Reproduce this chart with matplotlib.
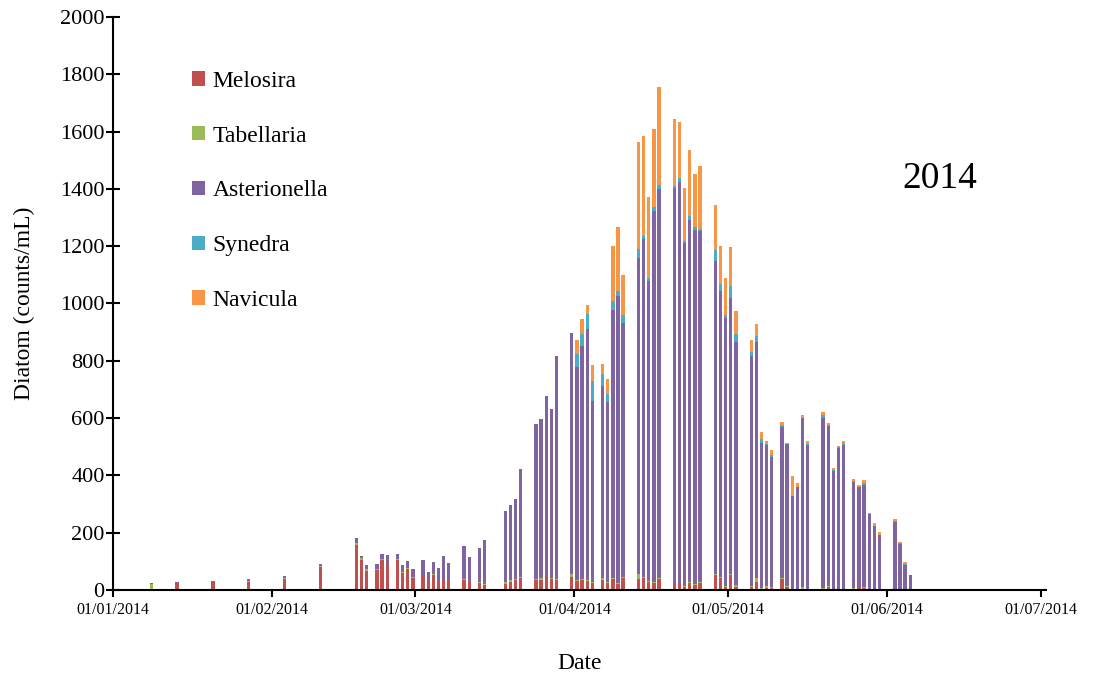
import numpy as np
import pandas as pd
import matplotlib
matplotlib.use("Agg")
import matplotlib.pyplot as plt
import matplotlib.dates as mdates

plt.rcParams['font.family'] = ['Liberation Serif', 'DejaVu Serif']

# sampling dates
dates = pd.to_datetime([
    '2014-01-08', '2014-01-13', '2014-01-20', '2014-01-27', '2014-02-03', '2014-02-10',
    '2014-02-17', '2014-02-18', '2014-02-19', '2014-02-21', '2014-02-22', '2014-02-23',
    '2014-02-25', '2014-02-26', '2014-02-27', '2014-02-28',
    '2014-03-02', '2014-03-03', '2014-03-04', '2014-03-05', '2014-03-06', '2014-03-07',
    '2014-03-10', '2014-03-11', '2014-03-13', '2014-03-14',
    '2014-03-18', '2014-03-19', '2014-03-20', '2014-03-21',
    '2014-03-24', '2014-03-25', '2014-03-26', '2014-03-27', '2014-03-28',
    '2014-03-31', '2014-04-01', '2014-04-02', '2014-04-03', '2014-04-04',
    '2014-04-06', '2014-04-07', '2014-04-08', '2014-04-09', '2014-04-10',
    '2014-04-13', '2014-04-14', '2014-04-15', '2014-04-16', '2014-04-17',
    '2014-04-20', '2014-04-21', '2014-04-22', '2014-04-23', '2014-04-24', '2014-04-25',
    '2014-04-28', '2014-04-29', '2014-04-30', '2014-05-01', '2014-05-02',
    '2014-05-05', '2014-05-06', '2014-05-07', '2014-05-08', '2014-05-09',
    '2014-05-11', '2014-05-12', '2014-05-13', '2014-05-14', '2014-05-15', '2014-05-16',
    '2014-05-19', '2014-05-20', '2014-05-21', '2014-05-22', '2014-05-23',
    '2014-05-25', '2014-05-26', '2014-05-27', '2014-05-28', '2014-05-29', '2014-05-30',
    '2014-06-02', '2014-06-03', '2014-06-04', '2014-06-05',
])

melosira = [
    0, 20, 27, 29, 40, 81,
    158, 103, 67, 70, 104, 95, 104, 59, 73, 43,
    52, 29, 54, 33, 38, 31,
    35, 29, 26, 17,
    21, 29, 35, 41,
    35, 35, 52, 40, 35,
    47, 31, 36, 31, 24,
    35, 24, 40, 21, 41,
    38, 42, 29, 24, 38,
    23, 23, 12, 24, 17, 24,
    51, 41, 12, 52, 12,
    10, 28, 3, 8, 6,
    38, 10, 0, 0, 3, 0,
    5, 10, 0, 3, 0,
    0, 6, 7, 0, 0, 0,
    0, 0, 0, 0,
]
tabellaria = [
    20, 1, 1, 1, 2, 2,
    6, 8, 5, 4, 3, 0, 4, 3, 2, 2,
    2, 0, 2, 0, 2, 0,
    3, 0, 2, 3,
    6, 5, 2, 3,
    3, 6, 2, 2, 2,
    8, 4, 2, 3, 5,
    7, 3, 2, 2, 3,
    18, 2, 4, 5, 5,
    3, 3, 2, 3, 5, 3,
    4, 6, 2, 4, 4,
    4, 14, 3, 5, 4,
    3, 5, 0, 0, 9, 0,
    2, 3, 0, 0, 0,
    6, 2, 2, 0, 0, 0,
    0, 0, 0, 0,
]
asterionella = [
    3, 7, 4, 7, 7, 9,
    16, 8, 14, 15, 18, 27, 18, 26, 25, 29,
    49, 35, 42, 44, 80, 62,
    115, 85, 118, 154,
    250, 263, 280, 377,
    541, 557, 623, 588, 780,
    842, 743, 814, 876, 629,
    669, 629, 936, 1004, 889,
    1103, 1182, 1046, 1295, 1358,
    1378, 1398, 1197, 1265, 1234, 1226,
    1093, 996, 937, 962, 849,
    803, 825, 508, 493, 454,
    529, 493, 329, 358, 587, 506,
    594, 559, 415, 492, 506,
    370, 350, 357, 264, 223, 192,
    237, 161, 87, 54,
]
synedra = [
    0, 0, 0, 0, 0, 0,
    0, 0, 0, 0, 0, 0, 0, 0, 0, 0,
    0, 0, 0, 0, 0, 0,
    0, 0, 0, 0,
    0, 0, 0, 0,
    0, 0, 0, 0, 0,
    0, 45, 43, 53, 70,
    42, 29, 31, 17, 26,
    31, 10, 11, 12, 13,
    6, 13, 8, 14, 12, 7,
    38, 24, 8, 42, 29,
    14, 20, 12, 3, 7,
    6, 2, 0, 0, 3, 3,
    10, 3, 5, 3, 7,
    4, 3, 6, 0, 0, 0,
    3, 2, 2, 0,
]
navicula = [
    0, 0, 0, 0, 0, 0,
    0, 0, 0, 0, 0, 0, 0, 0, 0, 0,
    0, 0, 0, 0, 0, 0,
    0, 0, 0, 0,
    0, 0, 0, 0,
    0, 0, 0, 0, 0,
    0, 49, 52, 31, 56,
    37, 53, 192, 222, 142,
    374, 350, 283, 272, 340,
    234, 196, 185, 230, 184, 220,
    158, 132, 131, 137, 79,
    41, 43, 24, 11, 18,
    12, 4, 69, 14, 9, 11,
    9, 7, 7, 5, 7,
    7, 5, 12, 4, 10, 9,
    7, 6, 10, 0,
]

names = ['Melosira', 'Tabellaria', 'Asterionella', 'Synedra', 'Navicula']
colors = ['#C0504D', '#9BBB59', '#8064A2', '#4BACC6', '#F79646']
series = [melosira, tabellaria, asterionella, synedra, navicula]

fig = plt.figure(figsize=(11.03, 6.79), dpi=100)
ax = fig.add_axes([0.1024, 0.1311, 0.846, 0.8439])

# bars sit in the middle of each day slot
x = mdates.date2num(dates) + 0.5
bottom = np.zeros(len(dates))
for name, col, vals in zip(names, colors, series):
    vals = np.array(vals, dtype=float)
    ax.bar(x, vals, width=0.65, bottom=bottom, color=col, label=name, linewidth=0)
    bottom += vals

ax.set_xlim(mdates.date2num(pd.Timestamp('2014-01-01')), mdates.date2num(pd.Timestamp('2014-07-02')))
ax.set_ylim(0, 2000)
ax.set_yticks(np.arange(0, 2001, 200))
ax.xaxis.set_major_locator(mdates.MonthLocator())
ax.xaxis.set_major_formatter(mdates.DateFormatter('%d/%m/%Y'))

for s in ['top', 'right']:
    ax.spines[s].set_visible(False)
for s in ['left', 'bottom']:
    ax.spines[s].set_linewidth(1.5)

ax.tick_params(axis='y', direction='inout', length=10, width=1.5, labelsize=16, pad=1)
ax.tick_params(axis='x', direction='out', length=5, width=1.5, labelsize=11.5, pad=4)

ax.set_xlabel('Date', fontsize=17, labelpad=25)
ax.set_ylabel('Diatom (counts/mL)', fontsize=17, labelpad=18)

ax.text(0.886, 0.718, '2014', transform=ax.transAxes, fontsize=27,
        ha='center', va='center')

ax.legend(loc='upper left', bbox_to_anchor=(0.085, 0.906), frameon=False,
          fontsize=17, handlelength=0.55, handleheight=0.55,
          handletextpad=0.3, labelspacing=1.43, borderpad=0, borderaxespad=0)

fig.savefig('out.png', dpi=100)
